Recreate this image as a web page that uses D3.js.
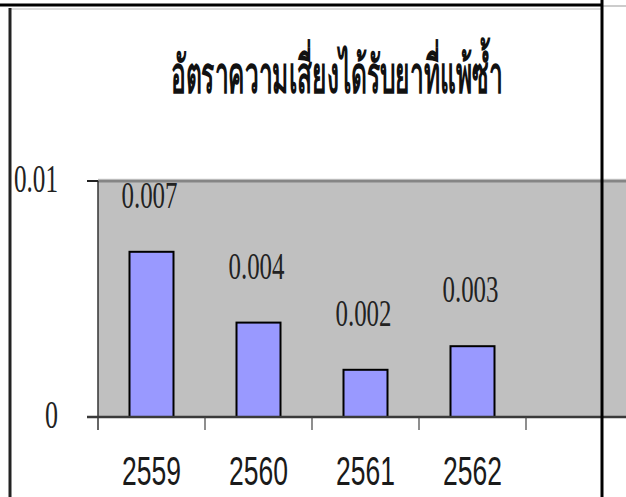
<!DOCTYPE html>
<html>
<head>
<meta charset="utf-8">
<script src="https://cdn.jsdelivr.net/npm/d3@7"></script>
<style>
  html, body { margin: 0; padding: 0; background: #fff; }
  svg { display: block; }
</style>
</head>
<body>
<div id="main-container"></div>
<script>
var title = "อัตราความเสี่ยงได้รับยาที่แพ้ซ้ำ";
var years = ["2559", "2560", "2561", "2562"];
var rates = [0.007, 0.004, 0.002, 0.003];
var yTicks = [0, 0.01];

var width = 626, height = 497;
var plotLeft = 98, plotTop = 181, plotBottom = 417;

var svg = d3.select("#main-container")
            .append("svg")
            .attr("width", width)
            .attr("height", height);

// squeeze a text sideways so it fills the given width
function squeeze(sel, cx, cy, w) {
    var natural = sel.node().getComputedTextLength();
    sel.attr("x", 0).attr("y", 0)
       .attr("transform", "translate(" + cx + "," + cy + ") scale(" + (w / natural) + ",1)");
}

// frame lines around the picture
svg.append("line").attr("x1", 602).attr("x2", 626).attr("y1", 6).attr("y2", 6)
   .attr("stroke", "#999").attr("stroke-width", 1);
svg.append("line").attr("x1", 10).attr("x2", 602).attr("y1", 9).attr("y2", 9)
   .attr("stroke", "#bbb").attr("stroke-width", 1);
svg.append("line").attr("x1", 0).attr("x2", 603).attr("y1", 5).attr("y2", 5)
   .attr("stroke", "#000").attr("stroke-width", 3);

var x = d3.scaleBand()
          .domain(years)
          .range([plotLeft, plotLeft + 107 * years.length]);
var barW = 44;

var y = d3.scaleLinear()
          .domain([0, 0.01])
          .range([plotBottom, plotTop]);

// plot area
svg.append("rect")
   .attr("x", plotLeft).attr("y", y(0.01))
   .attr("width", width - plotLeft).attr("height", y(0) - y(0.01))
   .attr("fill", "#c0c0c0");
svg.append("line").attr("x1", plotLeft).attr("x2", width)
   .attr("y1", y(0.01) - 2).attr("y2", y(0.01) - 2)
   .attr("stroke", "#e4e4e4").attr("stroke-width", 1);
svg.append("line").attr("x1", plotLeft).attr("x2", width)
   .attr("y1", y(0.01)).attr("y2", y(0.01))
   .attr("stroke", "#858585").attr("stroke-width", 3);

// bars
svg.selectAll("rect.bar")
   .data(rates)
   .enter()
   .append("rect")
   .attr("class", "bar")
   .attr("x", function(d, i) { return x(years[i]) + (x.bandwidth() - barW) / 2; })
   .attr("y", function(d) { return y(d); })
   .attr("width", barW)
   .attr("height", function(d) { return y(0) - y(d); })
   .attr("fill", "#9999ff")
   .attr("stroke", "#000")
   .attr("stroke-width", 2);

// value labels
svg.selectAll("text.val")
   .data(rates)
   .enter()
   .append("text")
   .attr("class", "val")
   .text(function(d) { return d3.format(".3f")(d); })
   .attr("x", function(d, i) { return x(years[i]) + x.bandwidth() / 2 - 2; })
   .attr("y", function(d) { return y(d) - 44; })
   .attr("text-anchor", "middle")
   .attr("font-family", "Liberation Serif")
   .attr("font-size", "37px")
   .attr("textLength", 56)
   .attr("lengthAdjust", "spacingAndGlyphs")
   .attr("fill", "#222");

// y axis
svg.append("line").attr("x1", plotLeft).attr("x2", plotLeft)
   .attr("y1", y(0.01)).attr("y2", y(0) + 13)
   .attr("stroke", "#333").attr("stroke-width", 1.5);
svg.selectAll("line.ytick")
   .data(yTicks)
   .enter()
   .append("line")
   .attr("class", "ytick")
   .attr("x1", plotLeft - 11).attr("x2", plotLeft)
   .attr("y1", function(d) { return y(d); })
   .attr("y2", function(d) { return y(d); })
   .attr("stroke", "#222").attr("stroke-width", 2);
svg.selectAll("text.ylab")
   .data(yTicks)
   .enter()
   .append("text")
   .attr("class", "ylab")
   .text(function(d) { return d === 0 ? "0" : String(d); })
   .attr("x", 58)
   .attr("y", function(d) { return y(d) + 11; })
   .attr("text-anchor", "end")
   .attr("font-family", "Liberation Serif")
   .attr("font-size", "39px")
   .attr("textLength", function(d) { return d === 0 ? 13 : 44; })
   .attr("lengthAdjust", "spacingAndGlyphs")
   .attr("fill", "#222");

// x axis
svg.append("line").attr("x1", plotLeft - 11).attr("x2", width)
   .attr("y1", y(0)).attr("y2", y(0))
   .attr("stroke", "#3a3a3a").attr("stroke-width", 2.5);
var bounds = d3.range(years.length + 1).map(function(i) { return plotLeft + i * x.step(); });
svg.selectAll("line.xtick")
   .data(bounds.slice(1))
   .enter()
   .append("line")
   .attr("class", "xtick")
   .attr("x1", function(d) { return d; }).attr("x2", function(d) { return d; })
   .attr("y1", y(0)).attr("y2", y(0) + 13)
   .attr("stroke", "#444").attr("stroke-width", 1.2);
svg.selectAll("text.xlab")
   .data(years)
   .enter()
   .append("text")
   .attr("class", "xlab")
   .text(function(d) { return d; })
   .attr("x", function(d) { return x(d) + x.bandwidth() / 2; })
   .attr("y", 485)
   .attr("text-anchor", "middle")
   .attr("font-family", "Liberation Sans")
   .attr("font-size", "41px")
   .attr("textLength", 59)
   .attr("lengthAdjust", "spacingAndGlyphs")
   .attr("fill", "#1a1a1a");

// title
var titleText = svg.append("text")
   .text(title)
   .attr("text-anchor", "middle")
   .attr("font-family", "Liberation Serif, DejaVu Serif, serif")
   .attr("font-size", "52px")
   .attr("font-weight", "bold")
   .attr("fill", "#111");
squeeze(titleText, 337, 93, 330);

// left and right border lines
svg.append("line").attr("x1", 10).attr("x2", 10).attr("y1", 8).attr("y2", height)
   .attr("stroke", "#222").attr("stroke-width", 3);
svg.append("line").attr("x1", 602).attr("x2", 602).attr("y1", 0).attr("y2", height)
   .attr("stroke", "#000").attr("stroke-width", 3);
</script>
</body>
</html>
